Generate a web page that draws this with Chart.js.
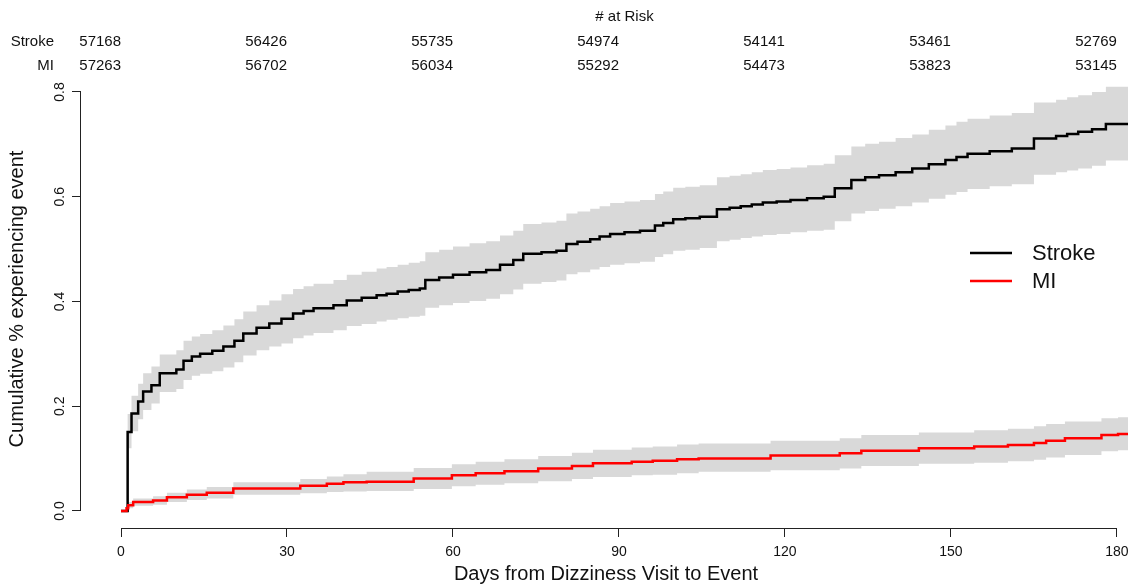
<!DOCTYPE html>
<html>
<head>
<meta charset="utf-8">
<title>Cumulative % experiencing event</title>
<script src="https://cdn.jsdelivr.net/npm/chart.js@4.4.1/dist/chart.umd.min.js"></script>
<style>
  html, body { margin: 0; padding: 0; background: #fff; }
  canvas { display: block; }
</style>
</head>
<body>
<canvas id="kmChart" width="1131" height="585"></canvas>
<script>
// Kaplan-Meier style cumulative incidence (days, value)
const strokeDays = [0, 1.2, 1.9, 3.1, 4.0, 5.5, 7.0, 10.0, 11.3, 12.8, 14.3, 16.5, 18.5, 20.5, 22.1, 24.5, 26.8, 29.0, 31.1, 33.0, 34.8, 38.4, 40.8, 43.5, 46.2, 48.0, 50.0, 52.0, 54.0, 55.0, 57.5, 60.0, 63.0, 66.0, 68.5, 70.9, 72.7, 76.0, 78.7, 80.5, 82.5, 84.8, 86.5, 88.4, 91.0, 93.8, 96.5, 98.0, 99.8, 102.0, 104.6, 107.7, 110.0, 112.0, 114.0, 116.0, 118.5, 121.0, 124.0, 127.0, 129.0, 132.0, 134.5, 137.0, 140.0, 143.0, 146.0, 149.0, 151.0, 153.0, 157.0, 161.0, 165.0, 169.0, 171.0, 173.0, 175.5, 178.0, 182.0];
const strokeRisk = [0, 0.151, 0.186, 0.209, 0.228, 0.240, 0.263, 0.270, 0.287, 0.295, 0.300, 0.306, 0.314, 0.325, 0.339, 0.350, 0.358, 0.367, 0.377, 0.382, 0.387, 0.393, 0.402, 0.407, 0.412, 0.415, 0.419, 0.422, 0.425, 0.441, 0.446, 0.451, 0.456, 0.460, 0.470, 0.479, 0.491, 0.494, 0.497, 0.510, 0.514, 0.519, 0.524, 0.529, 0.532, 0.535, 0.545, 0.550, 0.557, 0.559, 0.562, 0.576, 0.579, 0.582, 0.585, 0.589, 0.591, 0.594, 0.597, 0.600, 0.616, 0.632, 0.637, 0.641, 0.647, 0.654, 0.662, 0.670, 0.676, 0.682, 0.687, 0.692, 0.711, 0.716, 0.720, 0.724, 0.729, 0.739, 0.739];
const strokeLow = [0, 0.120, 0.152, 0.175, 0.193, 0.205, 0.227, 0.233, 0.250, 0.258, 0.262, 0.267, 0.274, 0.284, 0.297, 0.307, 0.314, 0.320, 0.330, 0.335, 0.340, 0.345, 0.353, 0.357, 0.362, 0.365, 0.368, 0.371, 0.373, 0.388, 0.393, 0.397, 0.401, 0.405, 0.414, 0.423, 0.434, 0.437, 0.440, 0.452, 0.456, 0.461, 0.466, 0.470, 0.473, 0.476, 0.485, 0.490, 0.497, 0.499, 0.502, 0.515, 0.518, 0.521, 0.524, 0.527, 0.529, 0.532, 0.535, 0.537, 0.553, 0.568, 0.573, 0.577, 0.582, 0.589, 0.596, 0.604, 0.609, 0.615, 0.620, 0.624, 0.642, 0.647, 0.650, 0.654, 0.659, 0.669, 0.669];
const strokeHigh = [0, 0.185, 0.220, 0.243, 0.263, 0.276, 0.299, 0.307, 0.325, 0.333, 0.338, 0.345, 0.354, 0.366, 0.381, 0.393, 0.402, 0.414, 0.424, 0.429, 0.434, 0.441, 0.451, 0.457, 0.463, 0.466, 0.470, 0.474, 0.477, 0.494, 0.499, 0.505, 0.511, 0.515, 0.526, 0.535, 0.548, 0.551, 0.554, 0.568, 0.572, 0.577, 0.582, 0.588, 0.591, 0.594, 0.605, 0.610, 0.617, 0.619, 0.622, 0.637, 0.640, 0.643, 0.647, 0.651, 0.653, 0.656, 0.660, 0.663, 0.679, 0.696, 0.701, 0.705, 0.712, 0.719, 0.728, 0.736, 0.743, 0.749, 0.755, 0.760, 0.780, 0.785, 0.790, 0.794, 0.800, 0.810, 0.810];

const miDays = [0, 1.0, 1.3, 2.2, 5.8, 8.3, 11.9, 15.5, 20.3, 32.4, 37.2, 40.2, 44.4, 52.9, 59.8, 64.1, 69.3, 75.4, 81.5, 85.3, 92.3, 96.1, 100.5, 104.4, 117.4, 129.9, 133.8, 144.2, 154.2, 160.3, 165.0, 167.2, 170.6, 177.2, 180.2, 182.0];
const miRisk = [0, 0.005, 0.011, 0.017, 0.020, 0.026, 0.031, 0.035, 0.043, 0.048, 0.052, 0.055, 0.056, 0.062, 0.068, 0.072, 0.076, 0.081, 0.086, 0.091, 0.094, 0.096, 0.099, 0.100, 0.106, 0.110, 0.115, 0.120, 0.123, 0.126, 0.130, 0.134, 0.139, 0.145, 0.147, 0.147];
const miLow = [0, 0.001, 0.005, 0.010, 0.012, 0.017, 0.021, 0.024, 0.031, 0.034, 0.036, 0.037, 0.038, 0.042, 0.047, 0.050, 0.053, 0.057, 0.061, 0.065, 0.068, 0.069, 0.072, 0.075, 0.078, 0.081, 0.086, 0.090, 0.092, 0.095, 0.098, 0.102, 0.107, 0.114, 0.116, 0.116];
const miHigh = [0, 0.010, 0.017, 0.024, 0.028, 0.035, 0.041, 0.046, 0.055, 0.061, 0.066, 0.070, 0.075, 0.082, 0.089, 0.094, 0.099, 0.105, 0.111, 0.117, 0.121, 0.123, 0.127, 0.129, 0.134, 0.139, 0.145, 0.150, 0.154, 0.157, 0.162, 0.166, 0.171, 0.177, 0.179, 0.179];

// axis ticks and the numbers-at-risk table
const xTicks = [0, 30, 60, 90, 120, 150, 180];
const yTicks = [0, 0.2, 0.4, 0.6, 0.8];
const riskDays = [0, 30, 60, 90, 120, 150, 180];
const strokeAtRisk = [57168, 56426, 55735, 54974, 54141, 53461, 52769];
const miAtRisk = [57263, 56702, 56034, 55292, 54473, 53823, 53145];

const FONT = "'Liberation Sans', Arial, Helvetica, sans-serif";
const TEXT = '#111';

function steps(days, vals) {
  return days.map((d, i) => ({ x: d, y: vals[i] }));
}

// R draws the axis line only from the first to the last tick
const axisLines = {
  id: 'axisLines',
  afterDraw(chart) {
    const { ctx, chartArea, scales: { x, y } } = chart;
    ctx.save();
    ctx.strokeStyle = '#222';
    ctx.lineWidth = 1;
    ctx.beginPath();
    ctx.moveTo(x.getPixelForValue(xTicks[0]), chartArea.bottom + 0.5);
    ctx.lineTo(x.getPixelForValue(xTicks[xTicks.length - 1]), chartArea.bottom + 0.5);
    ctx.moveTo(chartArea.left - 0.5, y.getPixelForValue(yTicks[0]));
    ctx.lineTo(chartArea.left - 0.5, y.getPixelForValue(yTicks[yTicks.length - 1]));
    ctx.stroke();
    ctx.restore();
  }
};

// "# at Risk" table above the plot
const riskTable = {
  id: 'riskTable',
  afterDraw(chart) {
    const { ctx, scales: { x } } = chart;
    ctx.save();
    ctx.fillStyle = TEXT;
    ctx.textBaseline = 'middle';
    ctx.font = '15px ' + FONT;
    ctx.textAlign = 'center';
    ctx.fillText('# at Risk', x.getPixelForValue(91), 17);
    const rows = [['Stroke', strokeAtRisk, 42], ['MI', miAtRisk, 66]];
    rows.forEach(([name, counts, yy]) => {
      ctx.textAlign = 'right';
      ctx.fillText(name, 54, yy);
      counts.forEach((n, i) => ctx.fillText(String(n), x.getPixelForValue(riskDays[i]), yy));
    });
    ctx.restore();
  }
};

// legend inside the plot, right side
const sideLegend = {
  id: 'sideLegend',
  afterDraw(chart) {
    const { ctx } = chart;
    const items = [chart.data.datasets[1], chart.data.datasets[0]];
    ctx.save();
    ctx.font = '22px ' + FONT;
    ctx.textBaseline = 'middle';
    ctx.textAlign = 'left';
    items.forEach((ds, i) => {
      const yy = 253 + i * 28;
      ctx.strokeStyle = ds.borderColor;
      ctx.lineWidth = 2.5;
      ctx.beginPath();
      ctx.moveTo(970, yy);
      ctx.lineTo(1012, yy);
      ctx.stroke();
      ctx.fillStyle = TEXT;
      ctx.fillText(ds.label, 1032, yy + 1);
    });
    ctx.restore();
  }
};

const ctx = document.getElementById('kmChart').getContext('2d');

new Chart(ctx, {
  type: 'line',
  data: {
    datasets: [
      { label: 'MI', data: steps(miDays, miRisk), borderColor: '#ff0000', borderWidth: 2.5, stepped: true, pointRadius: 0, fill: false, order: 0 },
      { label: 'Stroke', data: steps(strokeDays, strokeRisk), borderColor: '#000000', borderWidth: 2.5, stepped: true, pointRadius: 0, fill: false, order: 1 },
      { label: 'Stroke lower', data: steps(strokeDays, strokeLow), borderColor: 'transparent', borderWidth: 0, stepped: true, pointRadius: 0, fill: false, order: 4 },
      { label: 'Stroke upper', data: steps(strokeDays, strokeHigh), borderColor: 'transparent', borderWidth: 0, stepped: true, pointRadius: 0, fill: 2, backgroundColor: '#d9d9d9', order: 3 },
      { label: 'MI lower', data: steps(miDays, miLow), borderColor: 'transparent', borderWidth: 0, stepped: true, pointRadius: 0, fill: false, order: 4 },
      { label: 'MI upper', data: steps(miDays, miHigh), borderColor: 'transparent', borderWidth: 0, stepped: true, pointRadius: 0, fill: 4, backgroundColor: '#d9d9d9', order: 3 }
    ]
  },
  options: {
    responsive: false,
    animation: false,
    events: [],
    layout: { padding: { top: 70, right: 0, left: 0, bottom: 0 } },
    plugins: {
      legend: { display: false },
      tooltip: { enabled: false }
    },
    scales: {
      x: {
        type: 'linear',
        min: -7.23,
        max: 182.54,
        afterBuildTicks: s => { s.ticks = xTicks.map(v => ({ value: v })); },
        afterFit: s => { s.height = 57; s.paddingLeft = 0; s.paddingRight = 0; },
        border: { display: false },
        grid: { display: true, drawOnChartArea: false, drawTicks: true, tickLength: 9, color: '#222' },
        ticks: { autoSkip: false, maxRotation: 0, padding: 7, color: TEXT, font: { family: FONT, size: 14 } },
        title: { display: true, text: 'Days from Dizziness Visit to Event', color: TEXT, font: { family: FONT, size: 20, lineHeight: 1 }, padding: { top: 0, bottom: 1 } }
      },
      y: {
        type: 'linear',
        min: -0.0325,
        max: 0.842,
        afterBuildTicks: s => { s.ticks = yTicks.map(v => ({ value: v })); },
        afterFit: s => { s.width = 81; s.paddingTop = 0; s.paddingBottom = 0; },
        border: { display: false },
        grid: { display: true, drawOnChartArea: false, drawTicks: true, tickLength: 9, color: '#222' },
        ticks: { minRotation: 90, maxRotation: 90, crossAlign: 'center', padding: 2, color: TEXT, font: { family: FONT, size: 14 }, callback: v => v.toFixed(1) },
        title: { display: true, text: 'Cumulative % experiencing event', color: TEXT, font: { family: FONT, size: 20 }, padding: { top: 5, bottom: 0 } }
      }
    }
  },
  plugins: [axisLines, riskTable, sideLegend]
});
</script>
</body>
</html>
